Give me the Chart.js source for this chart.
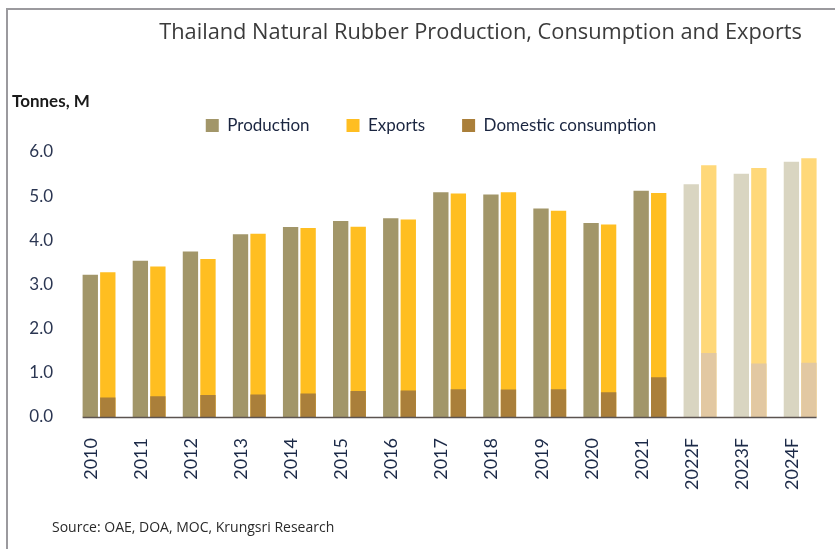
<!DOCTYPE html>
<html>
<head>
<meta charset="utf-8">
<script src="https://cdn.jsdelivr.net/npm/chart.js@4"></script>
<style>
  html, body { margin: 0; padding: 0; background: #fff; }
  #wrap { position: relative; width: 835px; height: 549px; overflow: hidden; background: #fff; }
  #frame { position: absolute; left: 6px; top: 8px; width: 900px; height: 700px;
           border-top: 2px solid #9b9a9e; border-left: 2px solid #9b9a9e; box-sizing: border-box; }
  #chart { position: absolute; left: 0; top: 0; }
  .txt { position: absolute; white-space: nowrap; }
  #title { right: 33px; top: 16px; font: 21.8px "Open Sans", sans-serif; color: #3b3b3b; }
  #unit { left: 12px; top: 90px; font: bold 17px Lato, sans-serif; color: #1a1a1a; }
  #source { left: 52px; top: 517px; font: 14px "Open Sans", sans-serif; color: #2a2a2a; }
</style>
</head>
<body>
<div id="wrap">
  <div id="frame"></div>
  <canvas id="chart" width="835" height="549"></canvas>
  <div class="txt" id="title">Thailand Natural Rubber Production, Consumption and Exports</div>
  <div class="txt" id="unit">Tonnes, M</div>
  <div class="txt" id="source">Source: OAE, DOA, MOC, Krungsri Research</div>
</div>
<script>
const years = ['2010','2011','2012','2013','2014','2015','2016','2017','2018','2019','2020','2021','2022F','2023F','2024F'];
const production = [3.22,3.54,3.75,4.14,4.30,4.44,4.50,5.09,5.04,4.72,4.39,5.12,5.27,5.51,5.78];
const exportsTotal = [3.28,3.41,3.58,4.15,4.28,4.31,4.47,5.06,5.09,4.67,4.36,5.07,5.70,5.64,5.86];
const domestic = [0.44,0.47,0.50,0.51,0.53,0.59,0.60,0.63,0.62,0.63,0.56,0.90,1.45,1.21,1.23];
const forecastLabels = ['2022F','2023F','2024F'];
const yTicks = [0,1,2,3,4,5,6];

const isFc = (ctx) => ctx.type === 'data' && forecastLabels.includes(years[ctx.dataIndex]);
const col = (dark, light) => (ctx) => isFc(ctx) ? light : dark;

const axisLine = {
  id: 'axisLine',
  afterLayout(chart) {
    const L = chart.legend;
    if (L) { L.left += 17; L.right += 17; L.top -= 8; L.bottom -= 8; }
  },
  afterDatasetsDraw(chart) {
    const m0 = chart.getDatasetMeta(0).data;
    const m1 = chart.getDatasetMeta(1).data;
    const first = m0[0], last = m1[m1.length - 1];
    const x0 = first.x - first.width / 2, x1 = last.x + last.width / 2;
    const y = chart.scales.y.getPixelForValue(0);
    const c = chart.ctx;
    c.save();
    c.strokeStyle = '#5b5350';
    c.lineWidth = 1.5;
    c.beginPath(); c.moveTo(x0, y + 0.5); c.lineTo(x1, y + 0.5); c.stroke();
    c.restore();
  }
};

new Chart(document.getElementById('chart'), {
  type: 'bar',
  data: {
    labels: years,
    datasets: [
      { label: 'Production', data: production, stack: 'p', order: 0,
        backgroundColor: col('#a29669', '#d9d5c1') },
      { label: 'Exports', data: exportsTotal, stack: 'e', order: 1,
        backgroundColor: col('#ffbe21', '#ffd879') },
      { label: 'Domestic consumption', data: domestic, stack: 'e', order: 0,
        backgroundColor: col('#aa7f3a', '#e2c8a2') }
    ]
  },
  options: {
    responsive: false,
    animation: false,
    categoryPercentage: 0.70,
    barPercentage: 0.875,
    layout: { padding: { top: 88, right: 7, bottom: 0, left: 0 } },
    plugins: {
      legend: {
        position: 'top',
        labels: {
          boxWidth: 13, boxHeight: 13, padding: 37,
          color: '#1a2540',
          font: { family: 'Lato', size: 17 },
          sort: (a, b) => a.datasetIndex - b.datasetIndex
        }
      },
      title: { display: false },
      tooltip: { enabled: false }
    },
    scales: {
      x: {
        stacked: true,
        offset: true,
        grid: { display: false },
        border: { display: false },
        ticks: {
          minRotation: 90, maxRotation: 90, autoSkip: false,
          padding: 13, labelOffset: -8,
          color: '#1c2a48',
          font: { family: 'Lato', size: 18 }
        },
        afterFit(s) { s.height = 132; }
      },
      y: {
        stacked: false,
        min: 0, max: 6,
        afterBuildTicks(s) { s.ticks = yTicks.map(v => ({ value: v })); },
        grid: { display: false },
        border: { display: false },
        ticks: {
          padding: 13,
          color: '#2b3652',
          font: { family: 'Lato', size: 17 },
          callback: (v) => Number(v).toFixed(1)
        },
        afterFit(s) { s.width = 74; }
      }
    }
  },
  plugins: [axisLine]
});
</script>
</body>
</html>
